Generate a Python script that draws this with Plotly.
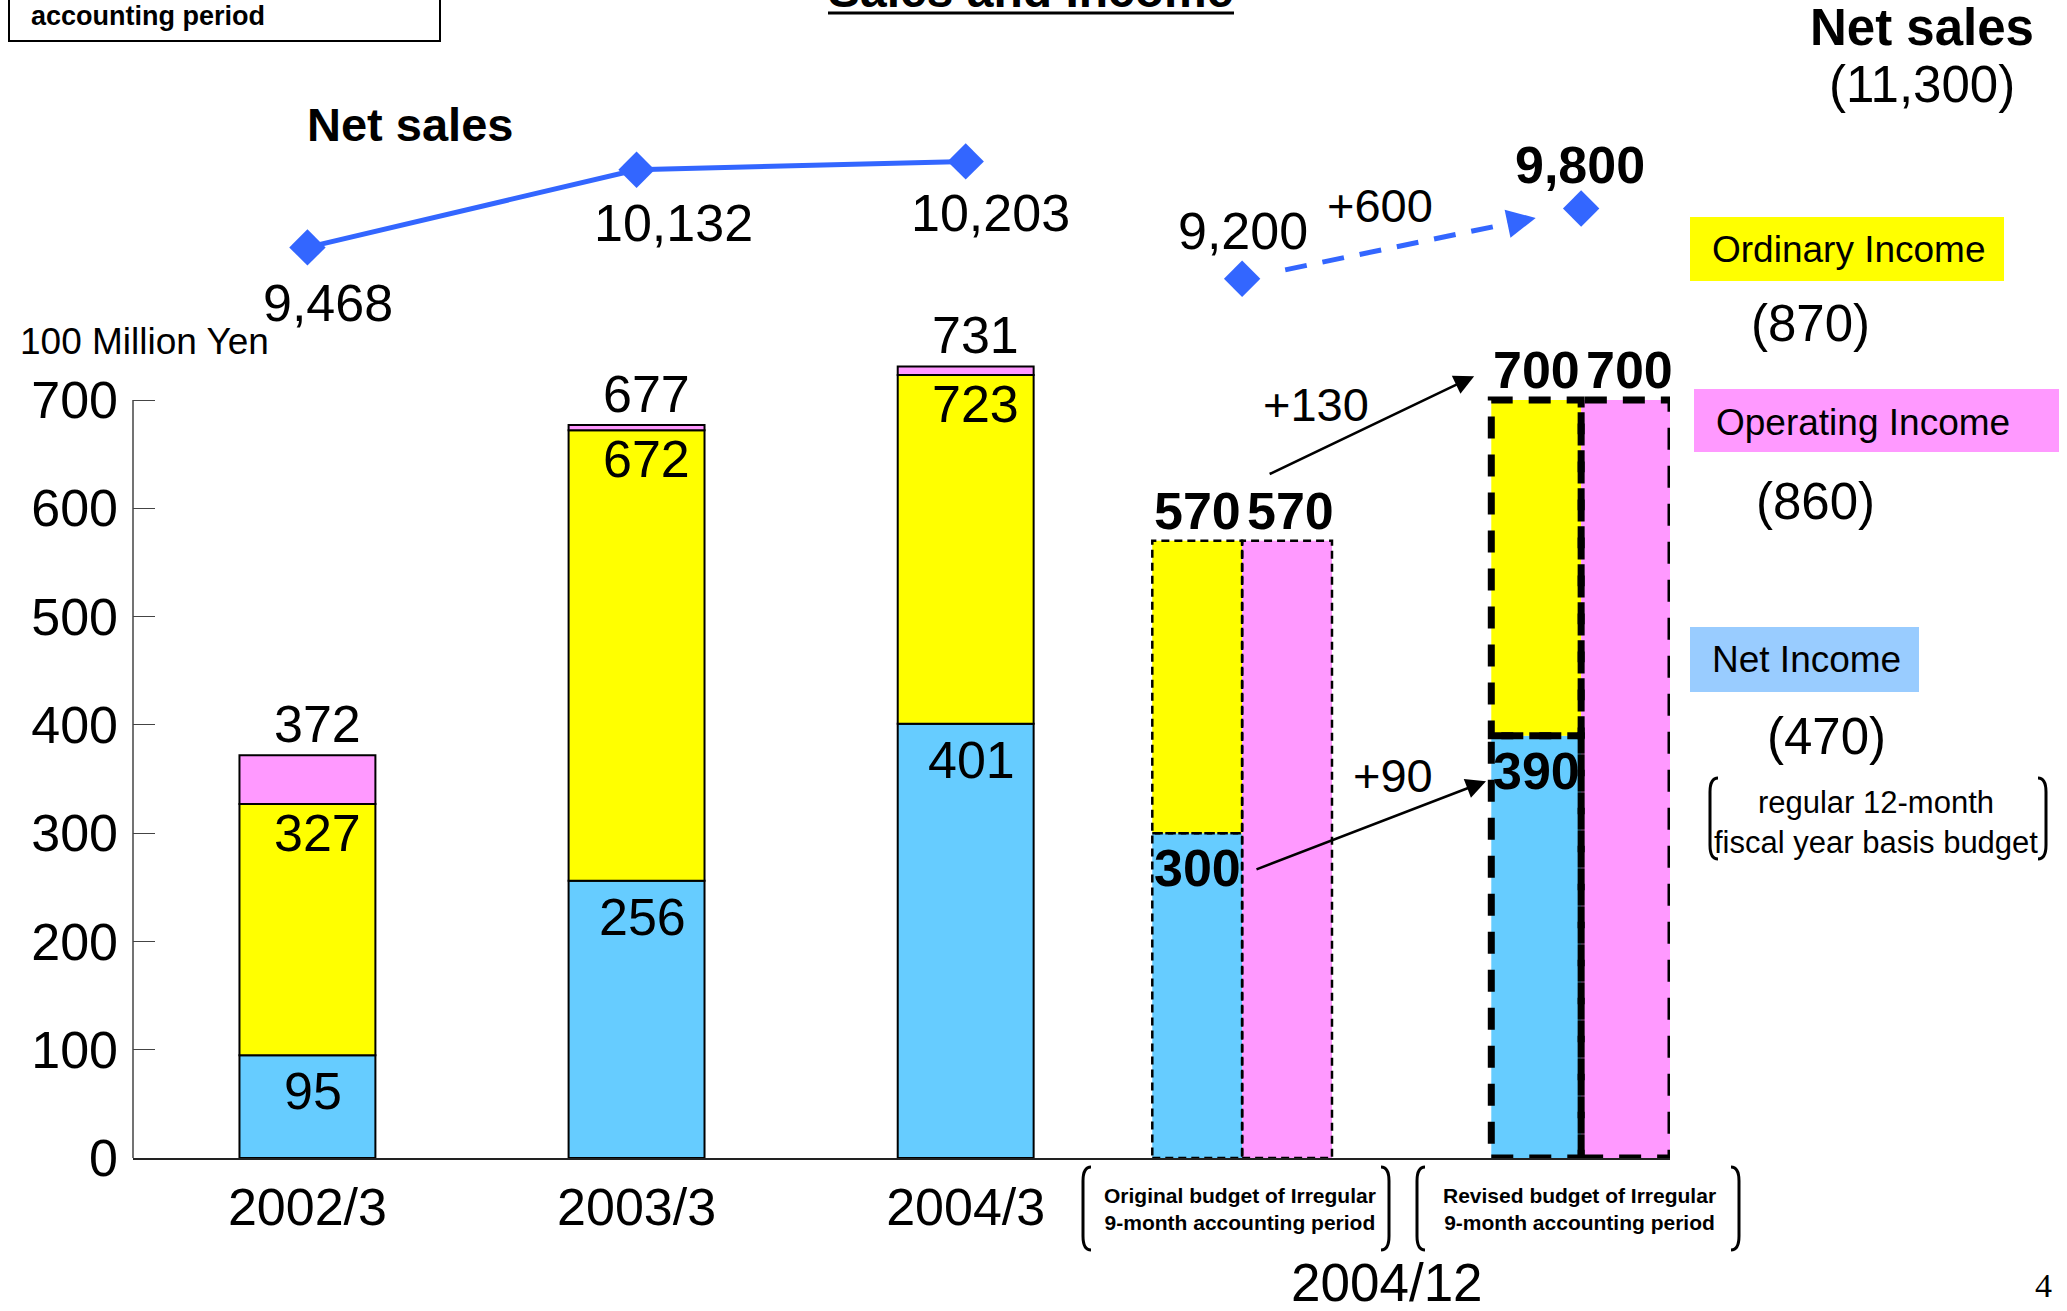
import plotly.graph_objects as go

# ---------------- data ----------------
actual_years = ["2002/3", "2003/3", "2004/3"]
net_income = [95, 256, 401]
ordinary_income = [327, 672, 723]
operating_income = [372, 677, 731]

budget_labels = ["<b>Original budget of Irregular<br>9-month accounting period</b>",
                 "<b>Revised budget of Irregular<br>9-month accounting period</b>"]
budget_period = "2004/12"
budget_net_income = [300, 390]
budget_ordinary_income = [570, 700]
budget_operating_income = [570, 700]
budget_changes = ["+90", "+130"]

net_sales_actual = [9468, 10132, 10203]
net_sales_budget = [9200, 9800]
net_sales_change = "+600"

fy_net_sales = "(11,300)"
fy_ordinary = "(870)"
fy_operating = "(860)"
fy_net_income = "(470)"

y_ticks = [0, 100, 200, 300, 400, 500, 600, 700]

# ---------------- layout constants ----------------
W, H = 2067, 1311
L, R, T, B = 133, 397, 20, 153
PW, PH = W - L - R, H - T - B
SLOT = [0, 1, 2, 2.84, 3.87]          # horizontal slot of each period
BAR_W = 0.413
SUB_W = 0.273
X_RANGE = [-0.53, 4.14]
Y_TOP = 700 * PH / (H - B - 400)       # so that 700 sits at pixel 400
S_PX = 0.117                           # pixels per sales unit
S_ANCHOR_PX = 247.4
Y2_RANGE = [9468 - (H - B - S_ANCHOR_PX) / S_PX, 9468 + (S_ANCHOR_PX - T) / S_PX]

FONT = "Liberation Sans, Arial, Helvetica, sans-serif"
BLUE, YELLOW, PINK = "#66CCFF", "#FFFF00", "#FF99FF"
LINE_BLUE = "#3366FF"


def xp(px):
    return (px - L) / PW


def yp(py):
    return (H - B - py) / PH


fig = go.Figure()

# actual years: stacked net / ordinary / operating
xa = SLOT[:3]
fig.add_trace(go.Bar(x=xa, y=net_income, base=[0] * 3, width=BAR_W,
                     marker=dict(color=BLUE, line=dict(color="black", width=2)), name="Net Income"))
fig.add_trace(go.Bar(x=xa, y=[o - n for o, n in zip(ordinary_income, net_income)], base=net_income,
                     width=BAR_W, marker=dict(color=YELLOW, line=dict(color="black", width=2)),
                     name="Ordinary Income"))
fig.add_trace(go.Bar(x=xa, y=[p - o for p, o in zip(operating_income, ordinary_income)],
                     base=ordinary_income, width=BAR_W,
                     marker=dict(color=PINK, line=dict(color="black", width=2)), name="Operating Income"))

# budgets: left sub-bar net + ordinary, right sub-bar operating
xb = SLOT[3:]
fig.add_trace(go.Bar(x=xb, y=budget_net_income, base=[0, 0], width=SUB_W, offset=-SUB_W,
                     marker=dict(color=BLUE, line=dict(width=0)), name="Net Income budget"))
fig.add_trace(go.Bar(x=xb, y=[o - n for o, n in zip(budget_ordinary_income, budget_net_income)],
                     base=budget_net_income, width=SUB_W, offset=-SUB_W,
                     marker=dict(color=YELLOW, line=dict(width=0)), name="Ordinary budget"))
fig.add_trace(go.Bar(x=xb, y=budget_operating_income, base=[0, 0], width=SUB_W, offset=0,
                     marker=dict(color=PINK, line=dict(width=0)), name="Operating budget"))

# net sales line
fig.add_trace(go.Scatter(x=xa, y=net_sales_actual, yaxis="y2", mode="lines+markers",
                         line=dict(color=LINE_BLUE, width=5),
                         marker=dict(symbol="diamond", size=28, color=LINE_BLUE), name="Net sales"))
fig.add_trace(go.Scatter(x=xb, y=net_sales_budget, yaxis="y2", mode="markers",
                         marker=dict(symbol="diamond", size=28, color=LINE_BLUE), name="Net sales budget"))

shapes = []
annotations = []


def ann(text, x, y, size, xref="paper", yref="paper", xanchor="center", yanchor="middle",
        xshift=0, yshift=0, family=FONT, **kw):
    annotations.append(dict(text=text, x=x, y=y, xref=xref, yref=yref, xanchor=xanchor,
                            yanchor=yanchor, xshift=xshift, yshift=yshift, showarrow=False,
                            font=dict(family=family, size=size, color="black"), **kw))


# dashed net-sales arrow between budget points
f0, f1, fh = 0.127, 0.80, 0.866
sx = lambda f: xb[0] + f * (xb[1] - xb[0])
sy = lambda f: net_sales_budget[0] + f * (net_sales_budget[1] - net_sales_budget[0])
shapes.append(dict(type="line", xref="x", yref="y2", x0=sx(f0), y0=sy(f0), x1=sx(f1), y1=sy(f1),
                   line=dict(color=LINE_BLUE, width=5, dash="22px,16px")))
annotations.append(dict(x=sx(fh), y=sy(fh), ax=sx(f1 - 0.02), ay=sy(f1 - 0.02), xref="x", yref="y2",
                        axref="x", ayref="y2", text="", showarrow=True, arrowhead=2, arrowsize=1.15,
                        arrowwidth=5, arrowcolor=LINE_BLUE, standoff=0))

# dashed outlines of budget bars
for j, (lw, dash) in enumerate([(2.5, "8px,5px"), (7, "22px,16px")]):
    c = xb[j]
    for x0, x1, y0, y1 in [(c - SUB_W, c, 0, budget_net_income[j]),
                           (c - SUB_W, c, budget_net_income[j], budget_ordinary_income[j]),
                           (c, c + SUB_W, 0, budget_operating_income[j])]:
        shapes.append(dict(type="rect", xref="x", yref="y", x0=x0, x1=x1, y0=y0, y1=y1,
                           line=dict(color="black", width=lw, dash=dash), fillcolor="rgba(0,0,0,0)"))

# y-axis line only over the 0-700 span
shapes.append(dict(type="line", xref="paper", yref="y", x0=0, x1=0, y0=0, y1=y_ticks[-1],
                   line=dict(color="#444", width=1.5)))

# bar value labels (actual)
for i in range(3):
    ann(str(operating_income[i]), xa[i], operating_income[i], 52, "x", "y", xshift=10, yshift=31)
    ann(str(ordinary_income[i]), xa[i], ordinary_income[i], 52, "x", "y", xshift=10, yshift=-29)
    ann(str(net_income[i]), xa[i], net_income[i], 52, "x", "y", xshift=6, yshift=-36)

# bar value labels (budgets)
for j in range(2):
    c = xb[j]
    ann(f"<b>{budget_ordinary_income[j]}</b>", c - SUB_W / 2, budget_ordinary_income[j], 52, "x", "y", yshift=30)
    ann(f"<b>{budget_operating_income[j]}</b>", c + SUB_W / 2, budget_operating_income[j], 52, "x", "y",
        xshift=3, yshift=30)
    ann(f"<b>{budget_net_income[j]}</b>", c - SUB_W / 2, budget_net_income[j], 52, "x", "y", yshift=-35)

# change arrows between budgets
annotations.append(dict(x=3.545, y=722, ax=2.919, ay=631, xref="x", yref="y", axref="x", ayref="y",
                        text="", showarrow=True, arrowhead=2, arrowsize=1.6, arrowwidth=2.5,
                        arrowcolor="black", standoff=0))
annotations.append(dict(x=3.581, y=348, ax=2.879, ay=266, xref="x", yref="y", axref="x", ayref="y",
                        text="", showarrow=True, arrowhead=2, arrowsize=1.6, arrowwidth=2.5,
                        arrowcolor="black", standoff=0))
ann(budget_changes[1], 3.065, 696, 47, "x", "y")
ann(budget_changes[0], 3.298, 353, 47, "x", "y")

# net sales labels
ns_shift = [(21, -56), (37, -53), (25, -52)]
for i in range(3):
    ann(f"{net_sales_actual[i]:,}", xa[i], net_sales_actual[i], 52, "x", "y2",
        xshift=ns_shift[i][0], yshift=ns_shift[i][1])
ann(f"{net_sales_budget[0]:,}", xb[0], net_sales_budget[0], 52, "x", "y2", xshift=1, yshift=48)
ann(f"<b>{net_sales_budget[1]:,}</b>", xb[1], net_sales_budget[1], 52, "x", "y2", xshift=-1, yshift=44)
ann(net_sales_change, (xb[0] + xb[1]) / 2, (net_sales_budget[0] + net_sales_budget[1]) / 2, 47,
    "x", "y2", xshift=-32, yshift=38)
ann("<b>Net sales</b>", xp(410), yp(124), 47)

# title (cut by the top of the page) and header box
ann("<b>Sales and Income</b>", xp(1031), yp(19), 48, yanchor="bottom")
shapes.append(dict(type="line", xref="paper", yref="paper", x0=xp(828), x1=xp(1234), y0=yp(13), y1=yp(13),
                   line=dict(color="black", width=3)))
shapes.append(dict(type="rect", xref="paper", yref="paper", x0=xp(9), x1=xp(440), y0=yp(-20), y1=yp(41),
                   line=dict(color="black", width=2)))
ann("<b>accounting period</b>", xp(29), yp(16), 27, xanchor="left")

# unit label
ann("100 Million Yen", xp(18), yp(341), 37, xanchor="left")

# full-year budget side panel
ann("<b>Net sales</b>", xp(1922), yp(27), 51)
ann(fy_net_sales, xp(1922), yp(85), 51)
for (x0, x1, y0, y1, col, label, tx, ty) in [
        (1690, 2004, 217, 281, YELLOW, "Ordinary Income", 1710, 250),
        (1694, 2059, 389, 452, PINK, "Operating Income", 1714, 422),
        (1690, 1919, 627, 692, "#99CCFF", "Net Income", 1710, 660)]:
    shapes.append(dict(type="rect", xref="paper", yref="paper", x0=xp(x0), x1=xp(x1), y0=yp(y1), y1=yp(y0),
                       fillcolor=col, line=dict(width=0), layer="below"))
    ann(label, xp(tx), yp(ty), 37, xanchor="left")
ann(fy_ordinary, xp(1810), yp(324), 51)
ann(fy_operating, xp(1815), yp(501), 51)
ann(fy_net_income, xp(1826), yp(737), 51)
ann("regular 12-month<br>fiscal year basis budget", xp(1876), yp(822), 31)


def bracket(x, y0, y1, side, w=8, c=14):
    return dict(type="path", xref="paper", yref="paper",
                path=(f"M {xp(x + side * w)},{yp(y0)} Q {xp(x)},{yp(y0)} {xp(x)},{yp(y0 + c)} "
                      f"L {xp(x)},{yp(y1 - c)} Q {xp(x)},{yp(y1)} {xp(x + side * w)},{yp(y1)}"),
                line=dict(color="black", width=3))


shapes += [bracket(1710, 778, 859, 1), bracket(2046, 778, 859, -1)]

# budget category labels
for lab, cx, lx, rx in [(budget_labels[0], 1240, 1083, 1389), (budget_labels[1], 1579, 1417, 1739)]:
    ann(lab, xp(cx), yp(1209), 21)
    shapes += [bracket(lx, 1167, 1250, 1), bracket(rx, 1167, 1250, -1)]
ann(budget_period, xp(1387), yp(1282), 53)

# page number
ann("4", xp(2043), yp(1285), 34, family="Liberation Serif, Times New Roman, serif")

fig.update_layout(
    width=W, height=H, margin=dict(l=L, r=R, t=T, b=B),
    paper_bgcolor="white", plot_bgcolor="white", barmode="overlay", showlegend=False,
    font=dict(family=FONT, color="black"),
    xaxis=dict(range=X_RANGE, tickvals=xa, ticktext=actual_years, tickfont=dict(size=52),
               showgrid=False, zeroline=False, showline=True, linecolor="#222", linewidth=1.5,
               ticks="", ticklabelstandoff=3),
    yaxis=dict(range=[0, Y_TOP], tickvals=y_ticks, tickfont=dict(size=52), showgrid=False,
               zeroline=False, showline=False, ticks="inside", ticklen=22, tickcolor="#444",
               tickwidth=1.2, ticklabelstandoff=14),
    yaxis2=dict(range=Y2_RANGE, overlaying="y", visible=False, showgrid=False, zeroline=False),
    shapes=shapes, annotations=annotations,
)

fig.write_html("out.html", config={"displayModeBar": False},
               post_script="document.body.style.margin='0';document.body.style.overflow='hidden';")
